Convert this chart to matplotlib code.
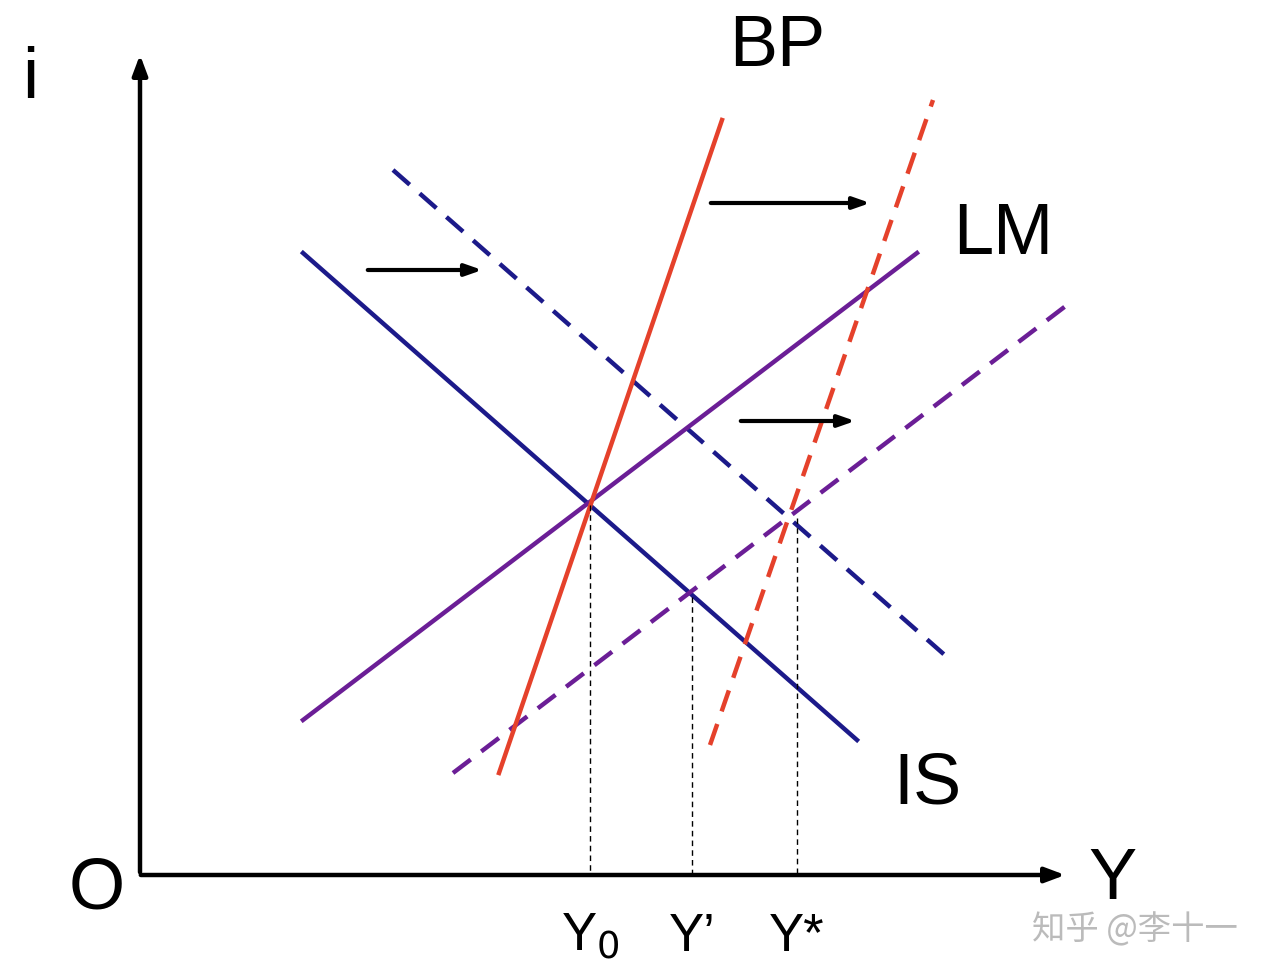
import matplotlib
matplotlib.use("Agg")
import matplotlib.pyplot as plt

plt.rcParams['font.family'] = ['Liberation Sans', 'Noto Sans CJK SC', 'DejaVu Sans']

# Curve endpoints (diagram coordinates, y grows downward)
is_solid = ([303, 857], [253, 740])
is_dash = ([393, 947], [170, 657])
lm_solid = ([303, 917], [720, 253])
lm_dash = ([453, 1067], [773, 305])
bp_solid = ([499, 722], [773, 120])
bp_dash = ([710, 933], [745, 100])
arrows = [((365, 270), (485, 270)), ((708, 203), (873, 203)), ((738, 421), (858, 421))]
drops = [(590, 505), (692, 597), (797, 518)]
origin_y = 875
xlabels = [(590, "Y$_0$"), (692, "Y’"), (797, "Y*")]

fig = plt.figure(figsize=(12.87, 9.8), dpi=100)
ax = fig.add_axes([0, 0, 1, 1])
ax.set_xlim(0, 1287); ax.set_ylim(980, 0); ax.axis('off')

navy = '#1c1a8a'; purple = '#6b1e96'; red = '#e5412b'
lw = 3.2
ax.plot(*is_solid, color=navy, lw=lw)
ax.plot(*is_dash, color=navy, lw=lw, ls=(0, (5, 3)))
ax.plot(*lm_solid, color=purple, lw=lw)
ax.plot(*lm_dash, color=purple, lw=lw, ls=(0, (5, 3)))
ax.plot(*bp_solid, color=red, lw=lw)
ax.plot(*bp_dash, color=red, lw=lw, ls=(0, (5, 3)))

for x, ytop in drops:
    ax.plot([x, x], [ytop, origin_y], color='black', lw=1, ls=(0, (4, 3)))

ax.annotate('', xy=(140, 52), xytext=(140, origin_y),
            arrowprops=dict(arrowstyle='-|>,head_length=1.2,head_width=0.45', color='black', lw=3.2))
ax.annotate('', xy=(1068, origin_y), xytext=(138, origin_y),
            arrowprops=dict(arrowstyle='-|>,head_length=1.2,head_width=0.45', color='black', lw=3.2))
for s, e in arrows:
    ax.annotate('', xy=e, xytext=s,
                arrowprops=dict(arrowstyle='-|>,head_length=1.0,head_width=0.35', color='black', lw=3))

fs = 52
ax.text(30, 80, 'i', fontsize=fs, ha='center', va='center')
ax.text(777, 48, 'BP', fontsize=fs, ha='center', va='center')
ax.text(1003, 235, 'LM', fontsize=fs, ha='center', va='center')
ax.text(927, 785, 'IS', fontsize=fs, ha='center', va='center')
ax.text(97, 890, 'O', fontsize=fs, ha='center', va='center')
ax.text(1112, 880, 'Y', fontsize=fs, ha='center', va='center')
for x, t in xlabels:
    ax.text(x, 937, t, fontsize=38, ha='center', va='center')
ax.text(1135, 930, '知乎 @李十一', fontsize=24, color='#bbbbbb', ha='center', va='center',
        family=['Noto Sans CJK SC', 'DejaVu Sans'])

fig.savefig('out.png', dpi=100)
